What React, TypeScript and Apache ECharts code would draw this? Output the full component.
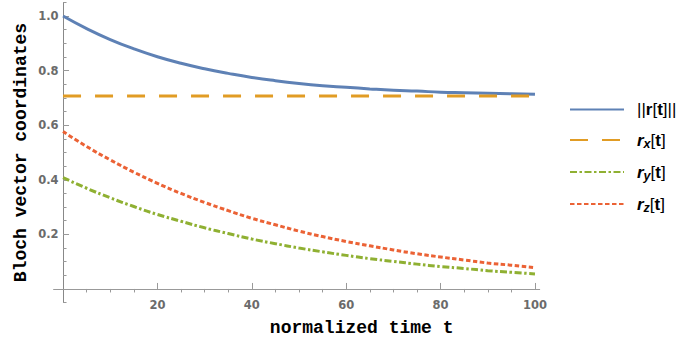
import React, { useEffect, useRef } from "react";
import * as echarts from "echarts";

const T = [0, 5, 10, 15, 20, 25, 30, 35, 40, 45, 50, 55, 60, 65, 70, 75, 80, 85, 90, 95, 100];
const normR = [1.0, 0.954, 0.914, 0.88, 0.851, 0.827, 0.807, 0.79, 0.775, 0.763, 0.753, 0.745, 0.739, 0.733, 0.728, 0.725, 0.721, 0.719, 0.717, 0.715, 0.713];
const rX = [0.707, 0.707, 0.707, 0.707, 0.707, 0.707, 0.707, 0.707, 0.707, 0.707, 0.707, 0.707, 0.707, 0.707, 0.707, 0.707, 0.707, 0.707, 0.707, 0.707, 0.707];
const rY = [0.408, 0.369, 0.334, 0.302, 0.273, 0.248, 0.224, 0.203, 0.183, 0.166, 0.15, 0.136, 0.123, 0.111, 0.101, 0.091, 0.082, 0.075, 0.067, 0.061, 0.055];
const rZ = [0.577, 0.522, 0.473, 0.428, 0.387, 0.35, 0.317, 0.287, 0.259, 0.235, 0.212, 0.192, 0.174, 0.158, 0.143, 0.129, 0.117, 0.106, 0.095, 0.087, 0.078];

const seriesNames = ["||r[t]||", "rx[t]", "ry[t]", "rz[t]"];
const xLabelValues = [20, 40, 60, 80, 100];
const xMajorTicks = [20, 40, 60, 80, 100];
const xMinorTicks = [5, 10, 15, 25, 30, 35, 45, 50, 55, 65, 70, 75, 85, 90, 95];
const yLabelValues = [0.2, 0.4, 0.6, 0.8, 1.0];
const yMajorTicks = [0.2, 0.4, 0.6, 0.8, 1.0];
const yMinorTicks = [-0.05, 0.05, 0.1, 0.15, 0.25, 0.3, 0.35, 0.45, 0.5, 0.55, 0.65, 0.7, 0.75, 0.85, 0.9, 0.95, 1.05];

const pairs = (ys: number[]) => T.map((t, i) => [t, ys[i]]);

const AXIS_COLOR = "#999999";
const LABEL_COLOR = "#6b6b6b";
const LEG_FONT = "Liberation Sans, Arial, sans-serif";

export default function App() {
  const ref = useRef<HTMLDivElement>(null);
  useEffect(() => {
    if (!ref.current) return;
    const chart = echarts.init(ref.current, undefined, { renderer: "svg" });
    const labelStyle = {
      color: LABEL_COLOR,
      fontFamily: "DejaVu Sans, sans-serif",
      fontWeight: "bold" as const,
      fontSize: 11.5,
    };
    const xBase = {
      type: "value" as const,
      min: -2,
      max: 101,
      splitLine: { show: false },
      axisLine: { onZero: true, lineStyle: { color: AXIS_COLOR, width: 1 } },
    };
    const yBase = {
      type: "value" as const,
      min: -0.05,
      max: 1.05,
      position: "left" as const,
      splitLine: { show: false },
      axisLine: { onZero: true, lineStyle: { color: "#888888", width: 1 } },
    };
    chart.setOption({
      animation: false,
      backgroundColor: "#ffffff",
      grid: { left: 53.6, right: 160.3, top: 2.4, bottom: 37.4, outerBoundsMode: "none", containLabel: false },
      xAxis: [
        {
          ...xBase,
          name: "normalized time t",
          nameLocation: "middle",
          nameGap: 16.5,
          nameMoveOverlap: false,
          nameTextStyle: {
            fontFamily: "Liberation Mono, Courier New, monospace",
            fontWeight: "bold",
            fontSize: 18,
            color: "#000",
            padding: [0, 0, 0, 130],
          },
          axisTick: { show: true, inside: true, length: 6, customValues: xMajorTicks, lineStyle: { color: AXIS_COLOR } },
          axisLabel: { ...labelStyle, margin: -4, customValues: xLabelValues, formatter: (v: number) => String(v) },
        },
        {
          ...xBase,
          axisLine: { show: false, onZero: true, onZeroAxisIndex: 0 },
          axisTick: { show: true, inside: true, length: 3.5, customValues: xMinorTicks, lineStyle: { color: AXIS_COLOR } },
          axisLabel: { show: false },
        },
      ],
      yAxis: [
        {
          ...yBase,
          name: "Bloch vector coordinates",
          nameLocation: "middle",
          nameGap: 24,
          nameMoveOverlap: false,
          nameRotate: 90,
          nameTextStyle: {
            fontFamily: "Liberation Mono, Courier New, monospace",
            fontWeight: "bold",
            fontSize: 18,
            color: "#000",
          },
          axisTick: { show: true, inside: true, length: 6, customValues: yMajorTicks, lineStyle: { color: AXIS_COLOR } },
          axisLabel: { ...labelStyle, margin: -5, customValues: yLabelValues, formatter: (v: number) => v.toFixed(1) },
        },
        {
          ...yBase,
          axisLine: { show: false, onZero: true, onZeroAxisIndex: 0 },
          axisTick: { show: true, inside: true, length: 3.5, customValues: yMinorTicks, lineStyle: { color: AXIS_COLOR } },
          axisLabel: { show: false },
        },
      ],
      legend: {
        orient: "vertical",
        left: 564,
        top: 96,
        itemWidth: 54,
        itemHeight: 14,
        itemGap: 13.5,
        data: seriesNames,
        itemStyle: { opacity: 0 },
        textStyle: {
          padding: [0, 0, 0, 8],
          rich: {
            n: { fontFamily: LEG_FONT, fontSize: 17, color: "#000", fontWeight: "normal" },
            b: { fontFamily: LEG_FONT, fontSize: 17, color: "#000", fontWeight: "bold" },
            r: { fontFamily: LEG_FONT, fontSize: 17, color: "#000", fontWeight: "bold", fontStyle: "italic" },
            s: { fontFamily: LEG_FONT, fontSize: 12.5, color: "#000", fontWeight: "bold", fontStyle: "italic", verticalAlign: "bottom", padding: [7, 0, 0, 0] },
          },
        },
        formatter: (name: string) => {
          if (name === "||r[t]||") return "{n|||}{b|r}{n|[}{b|t}{n|]||}";
          const sub = name.charAt(1);
          return `{r|r}{s|${sub}}{n|[}{b|t}{n|]}`;
        },
      },
      series: [
        {
          name: seriesNames[0],
          type: "line",
          data: pairs(normR),
          smooth: true,
          symbol: "none",
          lineStyle: { color: "#5e81b5", width: 3 },
          itemStyle: { color: "#5e81b5" },
        },
        {
          name: seriesNames[1],
          type: "line",
          data: pairs(rX),
          symbol: "none",
          lineStyle: { color: "#e19c24", width: 3, type: [18, 14] },
          itemStyle: { color: "#e19c24" },
        },
        {
          name: seriesNames[2],
          type: "line",
          data: pairs(rY),
          smooth: true,
          symbol: "none",
          lineStyle: { color: "#8fb032", width: 3, type: [7, 2.5, 2.5, 2.5] },
          itemStyle: { color: "#8fb032" },
        },
        {
          name: seriesNames[3],
          type: "line",
          data: pairs(rZ),
          smooth: true,
          symbol: "none",
          lineStyle: { color: "#eb6235", width: 3, type: [4.5, 2.5] },
          itemStyle: { color: "#eb6235" },
        },
      ],
    });
    return () => chart.dispose();
  }, []);
  return <div ref={ref} style={{ position: "fixed", left: 0, top: 0, width: 700, height: 340 }} />;
}
